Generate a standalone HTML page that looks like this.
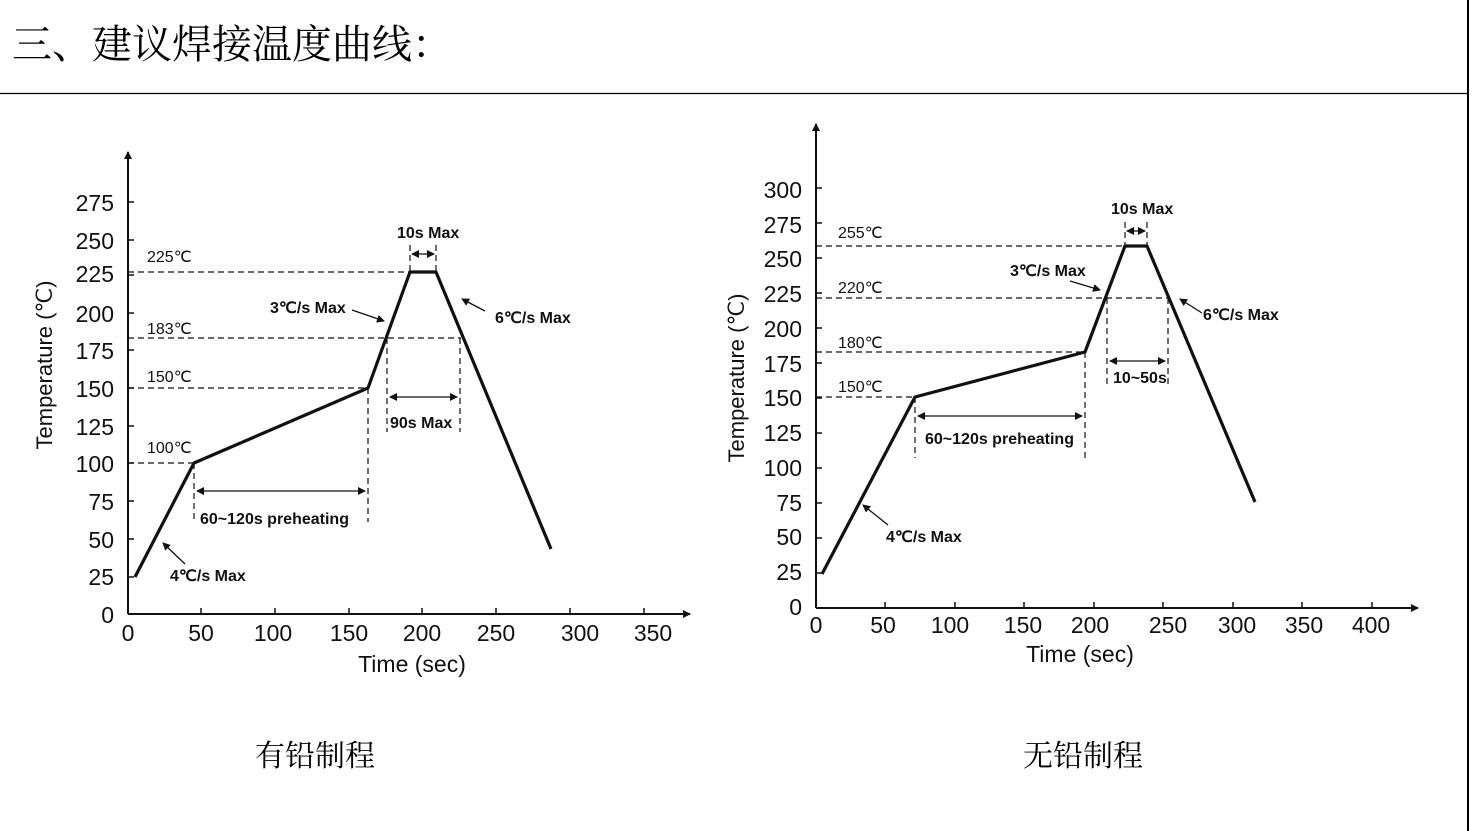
<!DOCTYPE html>
<html><head><meta charset="utf-8"><style>
html,body{margin:0;padding:0;background:#fff;}
svg{display:block;}
.t{font-family:"Liberation Sans",sans-serif;}
.tick{font-size:23px;fill:#111;}
.ann{font-size:16px;font-weight:bold;fill:#111;}
</style></head><body>
<svg width="1473" height="831" viewBox="0 0 1473 831" xmlns="http://www.w3.org/2000/svg">
<defs>
<marker id="ah" markerWidth="8" markerHeight="8" refX="7" refY="4" orient="auto" markerUnits="userSpaceOnUse"><path d="M0,0 L8,4 L0,8 z" fill="#111"/></marker>
<marker id="ahs" markerWidth="8" markerHeight="8" refX="1" refY="4" orient="auto" markerUnits="userSpaceOnUse"><path d="M8,0 L0,4 L8,8 z" fill="#111"/></marker>
</defs>
<rect width="1473" height="831" fill="#fff"/>
<text x="12" y="58" font-family="'Liberation Serif','Noto Serif CJK SC',serif" font-size="40" fill="#000">三、建议焊接温度曲线：</text>
<line x1="0" y1="93.5" x2="1468" y2="93.5" stroke="#000" stroke-width="1.2"/>
<line x1="1468" y1="0" x2="1468" y2="831" stroke="#000" stroke-width="2"/>

<!-- LEFT CHART -->
<g class="t" stroke="#111" fill="none">
<line x1="128" y1="614" x2="128" y2="152" stroke-width="2" marker-end="url(#ah)"/>
<line x1="128" y1="614" x2="690" y2="614" stroke-width="2" marker-end="url(#ah)"/>
<g stroke-width="1.5">
<path d="M128,577h6M128,539h6M128,501h6M128,463h6M128,426h6M128,388h6M128,350h6M128,313h6M128,275h6M128,240h6M128,202h6"/>
<path d="M201,614v-6M275,614v-6M349,614v-6M422,614v-6M496,614v-6M570,614v-6M644,614v-6"/>
</g>
<g stroke-dasharray="6,4" stroke-width="1.2">
<path d="M128,272H410M128,338H461M128,388H368M128,463H194"/>
<path d="M194,463V522M368,388V522M387,338V432M460,338V432M410,245V272M436,245V272"/>
</g>
<polyline points="135,577 194,463 368,388 410,272 436,272 551,549" stroke-width="3.2" stroke-linejoin="round"/>
<g stroke-width="1.3">
<line x1="197" y1="491" x2="365" y2="491" marker-end="url(#ah)" marker-start="url(#ahs)"/>
<line x1="390" y1="397" x2="457" y2="397" marker-end="url(#ah)" marker-start="url(#ahs)"/>
<line x1="412" y1="254" x2="434" y2="254" marker-end="url(#ah)" marker-start="url(#ahs)"/>
<line x1="352" y1="310" x2="384" y2="321" marker-end="url(#ah)"/>
<line x1="485" y1="311" x2="462" y2="299" marker-end="url(#ah)"/>
<line x1="185" y1="564" x2="163" y2="543" marker-end="url(#ah)"/>
</g>
</g>
<g class="t tick" text-anchor="end">
<text x="114" y="623">0</text><text x="114" y="585">25</text><text x="114" y="548">50</text><text x="114" y="510">75</text><text x="114" y="472">100</text><text x="114" y="435">125</text><text x="114" y="397">150</text><text x="114" y="359">175</text><text x="114" y="322">200</text><text x="114" y="282">225</text><text x="114" y="249">250</text><text x="114" y="211">275</text>
</g>
<g class="t tick" text-anchor="middle">
<text x="128" y="641">0</text><text x="201" y="641">50</text><text x="273" y="641">100</text><text x="349" y="641">150</text><text x="422" y="641">200</text><text x="496" y="641">250</text><text x="580" y="641">300</text><text x="653" y="641">350</text>
<text x="412" y="672">Time (sec)</text>
</g>
<text class="t" x="0" y="0" font-size="22" fill="#111" text-anchor="middle" transform="translate(52,365) rotate(-90)" font-family="'Liberation Sans','Noto Sans CJK SC',sans-serif">Temperature (℃)</text>
<g class="t ann" font-family="'Liberation Sans','Noto Sans CJK SC',sans-serif">
<text x="147" y="262" font-weight="normal">225℃</text>
<text x="147" y="334" font-weight="normal">183℃</text>
<text x="147" y="382" font-weight="normal">150℃</text>
<text x="147" y="453" font-weight="normal">100℃</text>
<text x="397" y="238">10s Max</text>
<text x="270" y="313">3℃/s Max</text>
<text x="495" y="323">6℃/s Max</text>
<text x="390" y="428">90s Max</text>
<text x="200" y="524">60~120s preheating</text>
<text x="170" y="581">4℃/s Max</text>
</g>

<!-- RIGHT CHART -->
<g class="t" stroke="#111" fill="none">
<line x1="816" y1="608" x2="816" y2="124" stroke-width="2" marker-end="url(#ah)"/>
<line x1="816" y1="608" x2="1418" y2="608" stroke-width="2" marker-end="url(#ah)"/>
<g stroke-width="1.5">
<path d="M816,573h6M816,538h6M816,503h6M816,468h6M816,433h6M816,398h6M816,363h6M816,328h6M816,293h6M816,258h6M816,223h6M816,188h6"/>
<path d="M885,608v-6M955,608v-6M1024,608v-6M1094,608v-6M1163,608v-6M1233,608v-6M1302,608v-6M1372,608v-6"/>
</g>
<g stroke-dasharray="6,4" stroke-width="1.2">
<path d="M816,246H1125M816,298H1168M816,352H1085M816,397H915"/>
<path d="M915,397V458M1085,352V458M1107,298V385M1168,298V385M1125,222V246M1147,222V246"/>
</g>
<polyline points="822,574 915,397 1085,352 1125,246 1147,246 1255,502" stroke-width="3.2" stroke-linejoin="round"/>
<g stroke-width="1.3">
<line x1="918" y1="416" x2="1082" y2="416" marker-end="url(#ah)" marker-start="url(#ahs)"/>
<line x1="1110" y1="361" x2="1165" y2="361" marker-end="url(#ah)" marker-start="url(#ahs)"/>
<line x1="1127" y1="231" x2="1145" y2="231" marker-end="url(#ah)" marker-start="url(#ahs)"/>
<line x1="1070" y1="281" x2="1100" y2="290" marker-end="url(#ah)"/>
<line x1="1202" y1="313" x2="1180" y2="299" marker-end="url(#ah)"/>
<line x1="888" y1="525" x2="863" y2="505" marker-end="url(#ah)"/>
</g>
</g>
<g class="t tick" text-anchor="end">
<text x="802" y="615">0</text><text x="802" y="580">25</text><text x="802" y="545">50</text><text x="802" y="511">75</text><text x="802" y="476">100</text><text x="802" y="441">125</text><text x="802" y="406">150</text><text x="802" y="372">175</text><text x="802" y="337">200</text><text x="802" y="302">225</text><text x="802" y="267">250</text><text x="802" y="233">275</text><text x="802" y="198">300</text>
</g>
<g class="t tick" text-anchor="middle">
<text x="816" y="633">0</text><text x="883" y="633">50</text><text x="950" y="633">100</text><text x="1023" y="633">150</text><text x="1090" y="633">200</text><text x="1168" y="633">250</text><text x="1237" y="633">300</text><text x="1304" y="633">350</text><text x="1371" y="633">400</text>
<text x="1080" y="662">Time (sec)</text>
</g>
<text class="t" x="0" y="0" font-size="22" fill="#111" text-anchor="middle" transform="translate(744,378) rotate(-90)" font-family="'Liberation Sans','Noto Sans CJK SC',sans-serif">Temperature (℃)</text>
<g class="t ann" font-family="'Liberation Sans','Noto Sans CJK SC',sans-serif">
<text x="838" y="238" font-weight="normal">255℃</text>
<text x="838" y="293" font-weight="normal">220℃</text>
<text x="838" y="348" font-weight="normal">180℃</text>
<text x="838" y="392" font-weight="normal">150℃</text>
<text x="1111" y="214">10s Max</text>
<text x="1010" y="276">3℃/s Max</text>
<text x="1203" y="320">6℃/s Max</text>
<text x="1113" y="383">10~50s</text>
<text x="925" y="444">60~120s preheating</text>
<text x="886" y="542">4℃/s Max</text>
</g>

<g font-family="'Liberation Serif','Noto Serif CJK SC',serif" font-size="30" fill="#000" text-anchor="middle">
<text x="315" y="766">有铅制程</text>
<text x="1083" y="766">无铅制程</text>
</g>
</svg>
</body></html>
